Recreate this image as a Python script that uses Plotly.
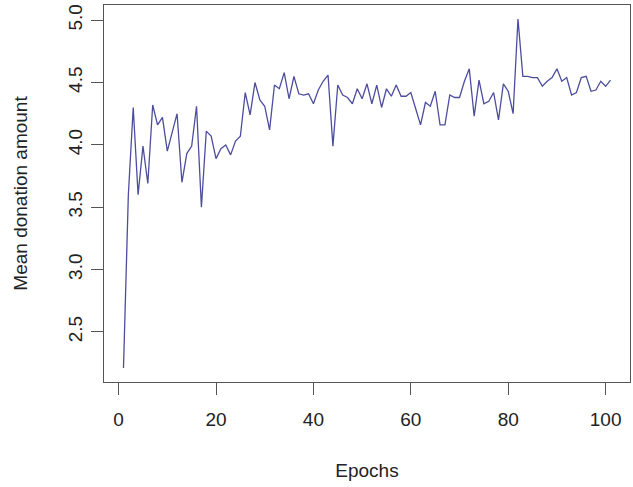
import plotly.graph_objects as go

epochs = list(range(1, 102))
mean_donation = [
    2.21, 3.60, 4.30, 3.60, 3.99, 3.69, 4.32, 4.16, 4.22, 3.95,
    4.10, 4.25, 3.70, 3.93, 3.99, 4.31, 3.50, 4.11, 4.07, 3.89,
    3.97, 4.00, 3.92, 4.03, 4.07, 4.42, 4.24, 4.50, 4.36, 4.31,
    4.12, 4.48, 4.45, 4.58, 4.37, 4.55, 4.41, 4.40, 4.41, 4.33,
    4.44, 4.51, 4.56, 3.99, 4.48, 4.40, 4.38, 4.33, 4.45, 4.37,
    4.49, 4.33, 4.48, 4.30, 4.45, 4.39, 4.48, 4.39, 4.39, 4.42,
    4.29, 4.16, 4.34, 4.31, 4.43, 4.16, 4.16, 4.40, 4.38, 4.38,
    4.51, 4.61, 4.23, 4.52, 4.33, 4.35, 4.42, 4.20, 4.49, 4.43,
    4.25, 5.01, 4.55, 4.55, 4.54, 4.54, 4.47, 4.51, 4.54, 4.61,
    4.51, 4.54, 4.40, 4.42, 4.54, 4.55, 4.43, 4.44, 4.51, 4.47,
    4.52,
]
x_ticks = [0, 20, 40, 60, 80, 100]
y_ticks = [2.5, 3.0, 3.5, 4.0, 4.5, 5.0]
y_tick_labels = ["2.5", "3.0", "3.5", "4.0", "4.5", "5.0"]

font = dict(family="Liberation Sans, Arial, sans-serif", size=19, color="#222")

fig = go.Figure(
    go.Scatter(
        x=epochs, y=mean_donation, mode="lines",
        line=dict(color="#4d4d9e", width=1.3),
        hoverinfo="x+y",
    )
)

pad_x = (max(epochs) - min(epochs)) * 0.04
pad_y = (max(mean_donation) - min(mean_donation)) * 0.04

fig.update_layout(
    width=633, height=487,
    margin=dict(l=104, r=3, t=5, b=105, autoexpand=False),
    paper_bgcolor="white", plot_bgcolor="white",
    showlegend=False,
    font=font,
    xaxis=dict(
        range=[min(epochs) - pad_x, max(epochs) + pad_x],
        tickvals=x_ticks, ticks="outside", ticklen=12, tickcolor="#555",
        showgrid=False, zeroline=False, automargin=False,
        showline=True, mirror=True, linecolor="#555", linewidth=1,
        ticklabelstandoff=8,
        title=dict(text="Epochs", standoff=34, font=font),
        tickfont=font,
    ),
    yaxis=dict(
        range=[min(mean_donation) - pad_y, max(mean_donation) + pad_y],
        tickvals=y_ticks, ticktext=y_tick_labels, tickangle=-90,
        ticks="outside", ticklen=12, tickcolor="#555",
        showgrid=False, zeroline=False, automargin=False,
        showline=True, mirror=True, linecolor="#555", linewidth=1,
        ticklabelstandoff=1,
        title=dict(text="Mean donation amount", standoff=32, font=font),
        tickfont=font,
    ),
)

fig.write_html(
    "out.html",
    config={"displayModeBar": False},
    post_script="document.body.style.margin='0';document.body.style.padding='0';",
)
